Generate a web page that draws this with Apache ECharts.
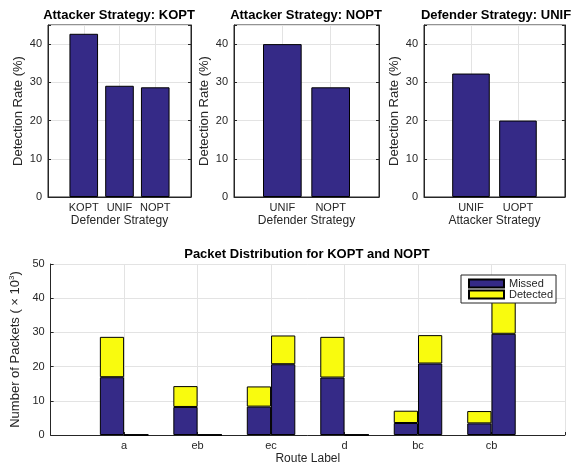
<!DOCTYPE html>
<html>
<head>
<meta charset="utf-8">
<script src="https://cdn.jsdelivr.net/npm/echarts@6/dist/echarts.min.js"></script>
<style>
  html, body { margin: 0; padding: 0; background: #fff; }
  #chart { width: 571px; height: 466px; }
</style>
</head>
<body>
<div id="chart"></div>
<script>
// detection rate panels
const kopDefenders = ['KOPT', 'UNIF', 'NOPT']
const kopRates = [42.7, 29.1, 28.7]
const nopDefenders = ['UNIF', 'NOPT']
const nopRates = [40.0, 28.7]
const unifAttackers = ['UNIF', 'UOPT']
const unifRates = [32.3, 20.0]
const rateTicks = [0, 10, 20, 30, 40]

// packet distribution (x 10^3)
const routes = ['a', 'eb', 'ec', 'd', 'bc', 'cb']
const koptMissed = [16.9, 8.2, 8.3, 16.8, 3.5, 3.4]
const koptDetected = [11.8, 6.1, 5.9, 11.9, 3.6, 3.6]
const noptMissed = [0, 0, 20.7, 0, 20.9, 29.6]
const noptDetected = [0.1, 0.1, 8.4, 0.1, 8.3, 10.4]
const packetTicks = [0, 10, 20, 30, 40, 50]

const ink = '#262626'
const gridLine = '#e3e3e3'
const navy = '#352a87'
const yellow = '#f9fb0e'
const font = '"Liberation Sans", Arial, Helvetica, sans-serif'

// empty slot at each end so the categories sit at 1..n like the matlab xlim [0, n+1]
const padded = labels => [' '].concat(labels, ['  '])
const toPairs = (labels, vals) => vals.map((v, i) => [labels[i], v])

function catAxis(idx, labels, name) {
  return {
    type: 'category',
    gridIndex: idx,
    data: padded(labels),
    boundaryGap: false,
    name: name,
    nameLocation: 'middle',
    nameGap: 18,
    nameTextStyle: { color: ink, fontSize: 12, fontFamily: font },
    axisLine: { show: true, onZero: false, lineStyle: { color: ink, width: 1 } },
    axisTick: { show: true, inside: true, length: 3, interval: 0, lineStyle: { color: ink } },
    axisLabel: { color: ink, fontSize: 11, fontFamily: font, margin: 5, interval: 0 },
    splitLine: { show: true, interval: 0, lineStyle: { color: gridLine } },
  }
}

function valAxis(idx, max, ticks, name, gap, rich) {
  return {
    type: 'value',
    gridIndex: idx,
    min: 0,
    max: max,
    interval: 10,
    name: name,
    nameLocation: 'middle',
    nameGap: gap,
    nameTextStyle: { color: ink, fontSize: 13, fontFamily: font, rich: rich },
    axisLine: { show: true, lineStyle: { color: ink, width: 1 } },
    axisTick: { show: true, inside: true, length: 3, lineStyle: { color: ink } },
    axisLabel: {
      color: ink, fontSize: 11, fontFamily: font, margin: 6,
      formatter: v => (ticks.indexOf(v) >= 0 ? String(v) : ''),
    },
    splitLine: { show: true, lineStyle: { color: gridLine } },
  }
}

// right-hand tick marks for the boxed panels
function rightAxis(idx) {
  return {
    type: 'value', gridIndex: idx, position: 'right', min: 0, max: 45, interval: 10,
    axisLine: { show: true, lineStyle: { color: ink } },
    axisTick: { show: true, inside: true, length: 3, lineStyle: { color: ink } },
    axisLabel: { show: false },
    splitLine: { show: false },
  }
}

function rateBar(idx, name, labels, vals) {
  return {
    name: name,
    type: 'bar',
    xAxisIndex: idx,
    yAxisIndex: idx,
    data: toPairs(labels, vals),
    barWidth: '80%',
    itemStyle: { color: navy, borderColor: '#000', borderWidth: 1 },
    emphasis: { disabled: true },
  }
}

function packetBar(name, stack, vals, color) {
  return {
    name: name,
    type: 'bar',
    stack: stack,
    xAxisIndex: 3,
    yAxisIndex: 3,
    data: toPairs(routes, vals),
    barWidth: '33%',
    barGap: '0%',
    itemStyle: { color: color, borderColor: '#000', borderWidth: 1 },
    emphasis: { disabled: true },
  }
}

function titleText(x, y, text) {
  return {
    type: 'text', x: x, y: y, silent: true,
    style: {
      text: text, align: 'center', verticalAlign: 'middle',
      fontSize: 13, fontWeight: 'bold', fontFamily: font, fill: '#000',
    },
  }
}

const chart = echarts.init(document.getElementById('chart'))

const boxed = { show: true, borderColor: ink, borderWidth: 1, backgroundColor: '#fff' }

const option = {
  animation: false,
  backgroundColor: '#fff',
  grid: [
    Object.assign({ left: 48, top: 25, width: 143, height: 172 }, boxed),
    Object.assign({ left: 234, top: 25, width: 145, height: 172 }, boxed),
    Object.assign({ left: 424, top: 25, width: 145, height: 172 }, boxed),
    { left: 48, top: 264, width: 518, height: 171 },
  ],
  xAxis: [
    catAxis(0, kopDefenders, 'Defender Strategy'),
    catAxis(1, nopDefenders, 'Defender Strategy'),
    catAxis(2, unifAttackers, 'Attacker Strategy'),
    catAxis(3, routes, 'Route Label'),
  ],
  yAxis: [
    valAxis(0, 45, rateTicks, 'Detection Rate (%)', 23),
    valAxis(1, 45, rateTicks, 'Detection Rate (%)', 23),
    valAxis(2, 45, rateTicks, 'Detection Rate (%)', 23),
    valAxis(3, 50, packetTicks, 'Number of Packets ( × 10{sup|3})', 24, {
      sup: { fontSize: 8, verticalAlign: 'top', color: ink, fontFamily: font, padding: [0, 0, 6, 0] },
    }),
    rightAxis(0),
    rightAxis(1),
    rightAxis(2),
  ],
  legend: {
    data: ['Missed', 'Detected'],
    orient: 'vertical',
    left: 461,
    top: 275,
    itemWidth: 35,
    itemHeight: 8,
    itemGap: 0,
    padding: [3, 3, 3, 7],
    borderColor: ink,
    borderWidth: 1,
    borderRadius: 0,
    backgroundColor: '#fff',
    icon: 'rect',
    selectedMode: false,
    textStyle: { color: ink, fontSize: 11, fontFamily: font, lineHeight: 11 },
  },
  series: [
    rateBar(0, 'KOPT attacker', kopDefenders, kopRates),
    rateBar(1, 'NOPT attacker', nopDefenders, nopRates),
    rateBar(2, 'UNIF defender', unifAttackers, unifRates),
    packetBar('Missed', 'kopt', koptMissed, navy),
    packetBar('Detected', 'kopt', koptDetected, yellow),
    packetBar('Missed', 'nopt', noptMissed, navy),
    packetBar('Detected', 'nopt', noptDetected, yellow),
  ],
  graphic: [
    titleText(119, 15, 'Attacker Strategy: KOPT'),
    titleText(306, 15, 'Attacker Strategy: NOPT'),
    titleText(496, 15, 'Defender Strategy: UNIF'),
    titleText(307, 254, 'Packet Distribution for KOPT and NOPT'),
  ],
}

option && chart.setOption(option)
</script>
</body>
</html>
